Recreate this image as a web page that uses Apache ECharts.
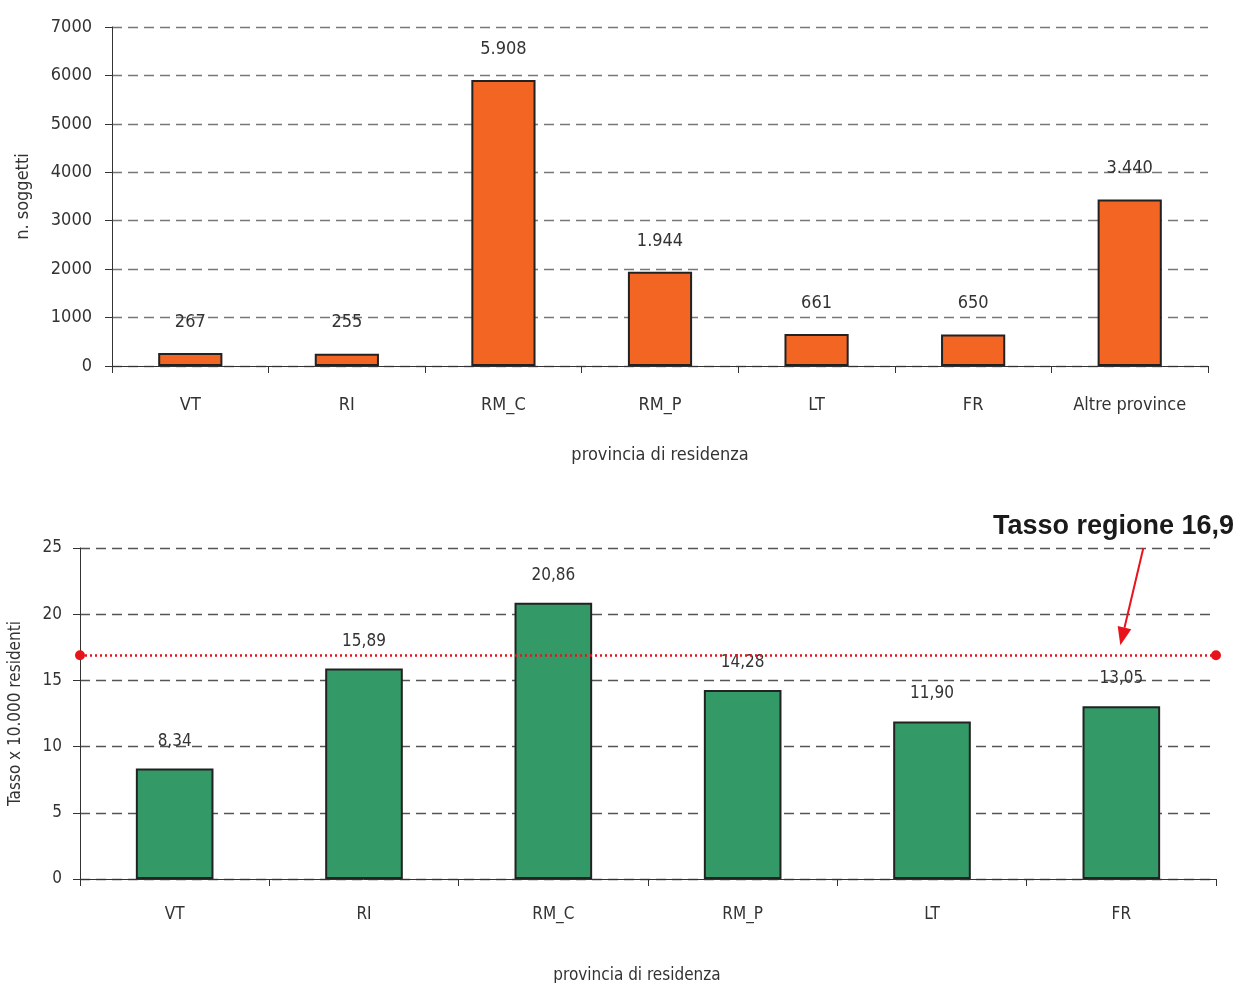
<!DOCTYPE html>
<html>
<head>
<meta charset="utf-8">
<script src="https://cdn.jsdelivr.net/npm/echarts@6/dist/echarts.min.js"></script>
<style>
  html, body { margin: 0; padding: 0; background: #fff; }
  #chart { width: 1235px; height: 983px; }
</style>
</head>
<body>
<div id="chart"></div>
<script>
// Soggetti per provincia di residenza
const provinceSoggetti = ['VT', 'RI', 'RM_C', 'RM_P', 'LT', 'FR', 'Altre province'];
const soggetti = [267, 255, 5908, 1944, 661, 650, 3440];

// Tasso x 10.000 residenti per provincia
const provinceTasso = ['VT', 'RI', 'RM_C', 'RM_P', 'LT', 'FR'];
const tasso = [8.34, 15.89, 20.86, 14.28, 11.90, 13.05];

// Tasso regionale
const tassoRegione = 16.9;

const FONT = '"DejaVu Sans Condensed", "Liberation Sans Narrow", sans-serif';
const TXT = '#333';

const fmtInt = v => String(v).replace(/\B(?=(\d{3})+(?!\d))/g, '.');
const fmtDec = v => v.toFixed(2).replace('.', ',');

const chart = echarts.init(document.getElementById('chart'), null, { renderer: 'canvas' });

const axisCommon = {
  axisLine: { show: true, lineStyle: { color: '#333', width: 1 } },
  axisTick: { show: true, length: 7, lineStyle: { color: '#333' } },
  axisLabel: { color: TXT, fontFamily: FONT, fontSize: 18 },
  nameTextStyle: { color: TXT, fontFamily: FONT, fontSize: 18 }
};

const option = {
  animation: false,
  backgroundColor: '#fff',
  grid: [
    { left: 112, right: 27, top: 27, height: 339, outerBoundsMode: 'none', containLabel: false },
    { left: 80, right: 19, top: 548, height: 331, outerBoundsMode: 'none', containLabel: false }
  ],
  xAxis: [
    Object.assign({}, axisCommon, {
      type: 'category', gridIndex: 0, data: provinceSoggetti,
      axisLabel: Object.assign({}, axisCommon.axisLabel, { margin: 30 }),
      name: 'provincia di residenza', nameLocation: 'middle', nameGap: 80
    }),
    Object.assign({}, axisCommon, {
      type: 'category', gridIndex: 1, data: provinceTasso,
      axisLabel: Object.assign({}, axisCommon.axisLabel, { margin: 27, fontSize: 17 }),
      name: 'provincia di residenza', nameLocation: 'middle', nameGap: 88,
      nameTextStyle: Object.assign({}, axisCommon.nameTextStyle, { fontSize: 17, padding: [0, 22, 0, 0] })
    })
  ],
  yAxis: [
    Object.assign({}, axisCommon, {
      type: 'value', gridIndex: 0, min: 0, max: 7000, interval: 1000,
      axisLabel: Object.assign({}, axisCommon.axisLabel, { margin: 20, formatter: v => String(v) }),
      splitLine: { show: true, lineStyle: { color: '#777', type: [10, 6], width: 1.3 } },
      name: 'n. soggetti', nameLocation: 'middle', nameGap: 80, nameRotate: 90
    }),
    Object.assign({}, axisCommon, {
      type: 'value', gridIndex: 1, min: 0, max: 25, interval: 5,
      axisLabel: Object.assign({}, axisCommon.axisLabel, { margin: 18, fontSize: 17 }),
      splitLine: { show: true, lineStyle: { color: '#555', type: [10, 6], width: 1.3 } },
      name: 'Tasso x 10.000 residenti', nameLocation: 'middle', nameGap: 56, nameRotate: 90,
      nameTextStyle: Object.assign({}, axisCommon.nameTextStyle, { fontSize: 17 })
    })
  ],
  series: [
    {
      type: 'bar', xAxisIndex: 0, yAxisIndex: 0, data: soggetti,
      barCategoryGap: '59%',
      itemStyle: { color: '#F26522', borderColor: '#222', borderWidth: 2 },
      label: {
        show: true, position: 'top', distance: 22, color: TXT,
        fontFamily: FONT, fontSize: 18, formatter: p => fmtInt(p.value)
      }
    },
    {
      type: 'bar', xAxisIndex: 1, yAxisIndex: 1, data: tasso,
      barCategoryGap: '59%',
      itemStyle: { color: '#339966', borderColor: '#222', borderWidth: 2 },
      label: {
        show: true, position: 'top', distance: 19, color: TXT,
        fontFamily: FONT, fontSize: 17, formatter: p => fmtDec(p.value)
      },
      markLine: {
        silent: true,
        symbol: ['circle', 'circle'], symbolSize: 10,
        label: { show: false },
        lineStyle: { color: '#E8141B', type: [2, 3], width: 2.5 },
        itemStyle: { color: '#E8141B' },
        data: [{ yAxis: tassoRegione }]
      }
    }
  ]
};

chart.setOption(option);

// Annotation: label + arrow pointing at the regional rate line above FR
const tip = chart.convertToPixel({ xAxisIndex: 1, yAxisIndex: 1 }, ['FR', tassoRegione]);
const tipX = tip[0] - 1, tipY = tip[1] - 10;
const startX = tipX + 23, startY = 548;
const ang = Math.atan2(tipY - startY, tipX - startX);
const headLen = 18, headHalf = 7;
const bx = tipX - headLen * Math.cos(ang), by = tipY - headLen * Math.sin(ang);
const nx = -Math.sin(ang), ny = Math.cos(ang);

chart.setOption({
  graphic: [
    {
      type: 'text', right: 1, top: 513,
      style: {
        text: 'Tasso regione 16,9', fill: '#1a1a1a',
        font: 'bold 27px "Liberation Sans", Arial, sans-serif'
      }
    },
    {
      type: 'line',
      shape: { x1: startX, y1: startY, x2: bx, y2: by },
      style: { stroke: '#E8141B', lineWidth: 2 }
    },
    {
      type: 'polygon',
      shape: { points: [[tipX, tipY], [bx + nx * headHalf, by + ny * headHalf], [bx - nx * headHalf, by - ny * headHalf]] },
      style: { fill: '#E8141B' }
    }
  ]
});
</script>
</body>
</html>
